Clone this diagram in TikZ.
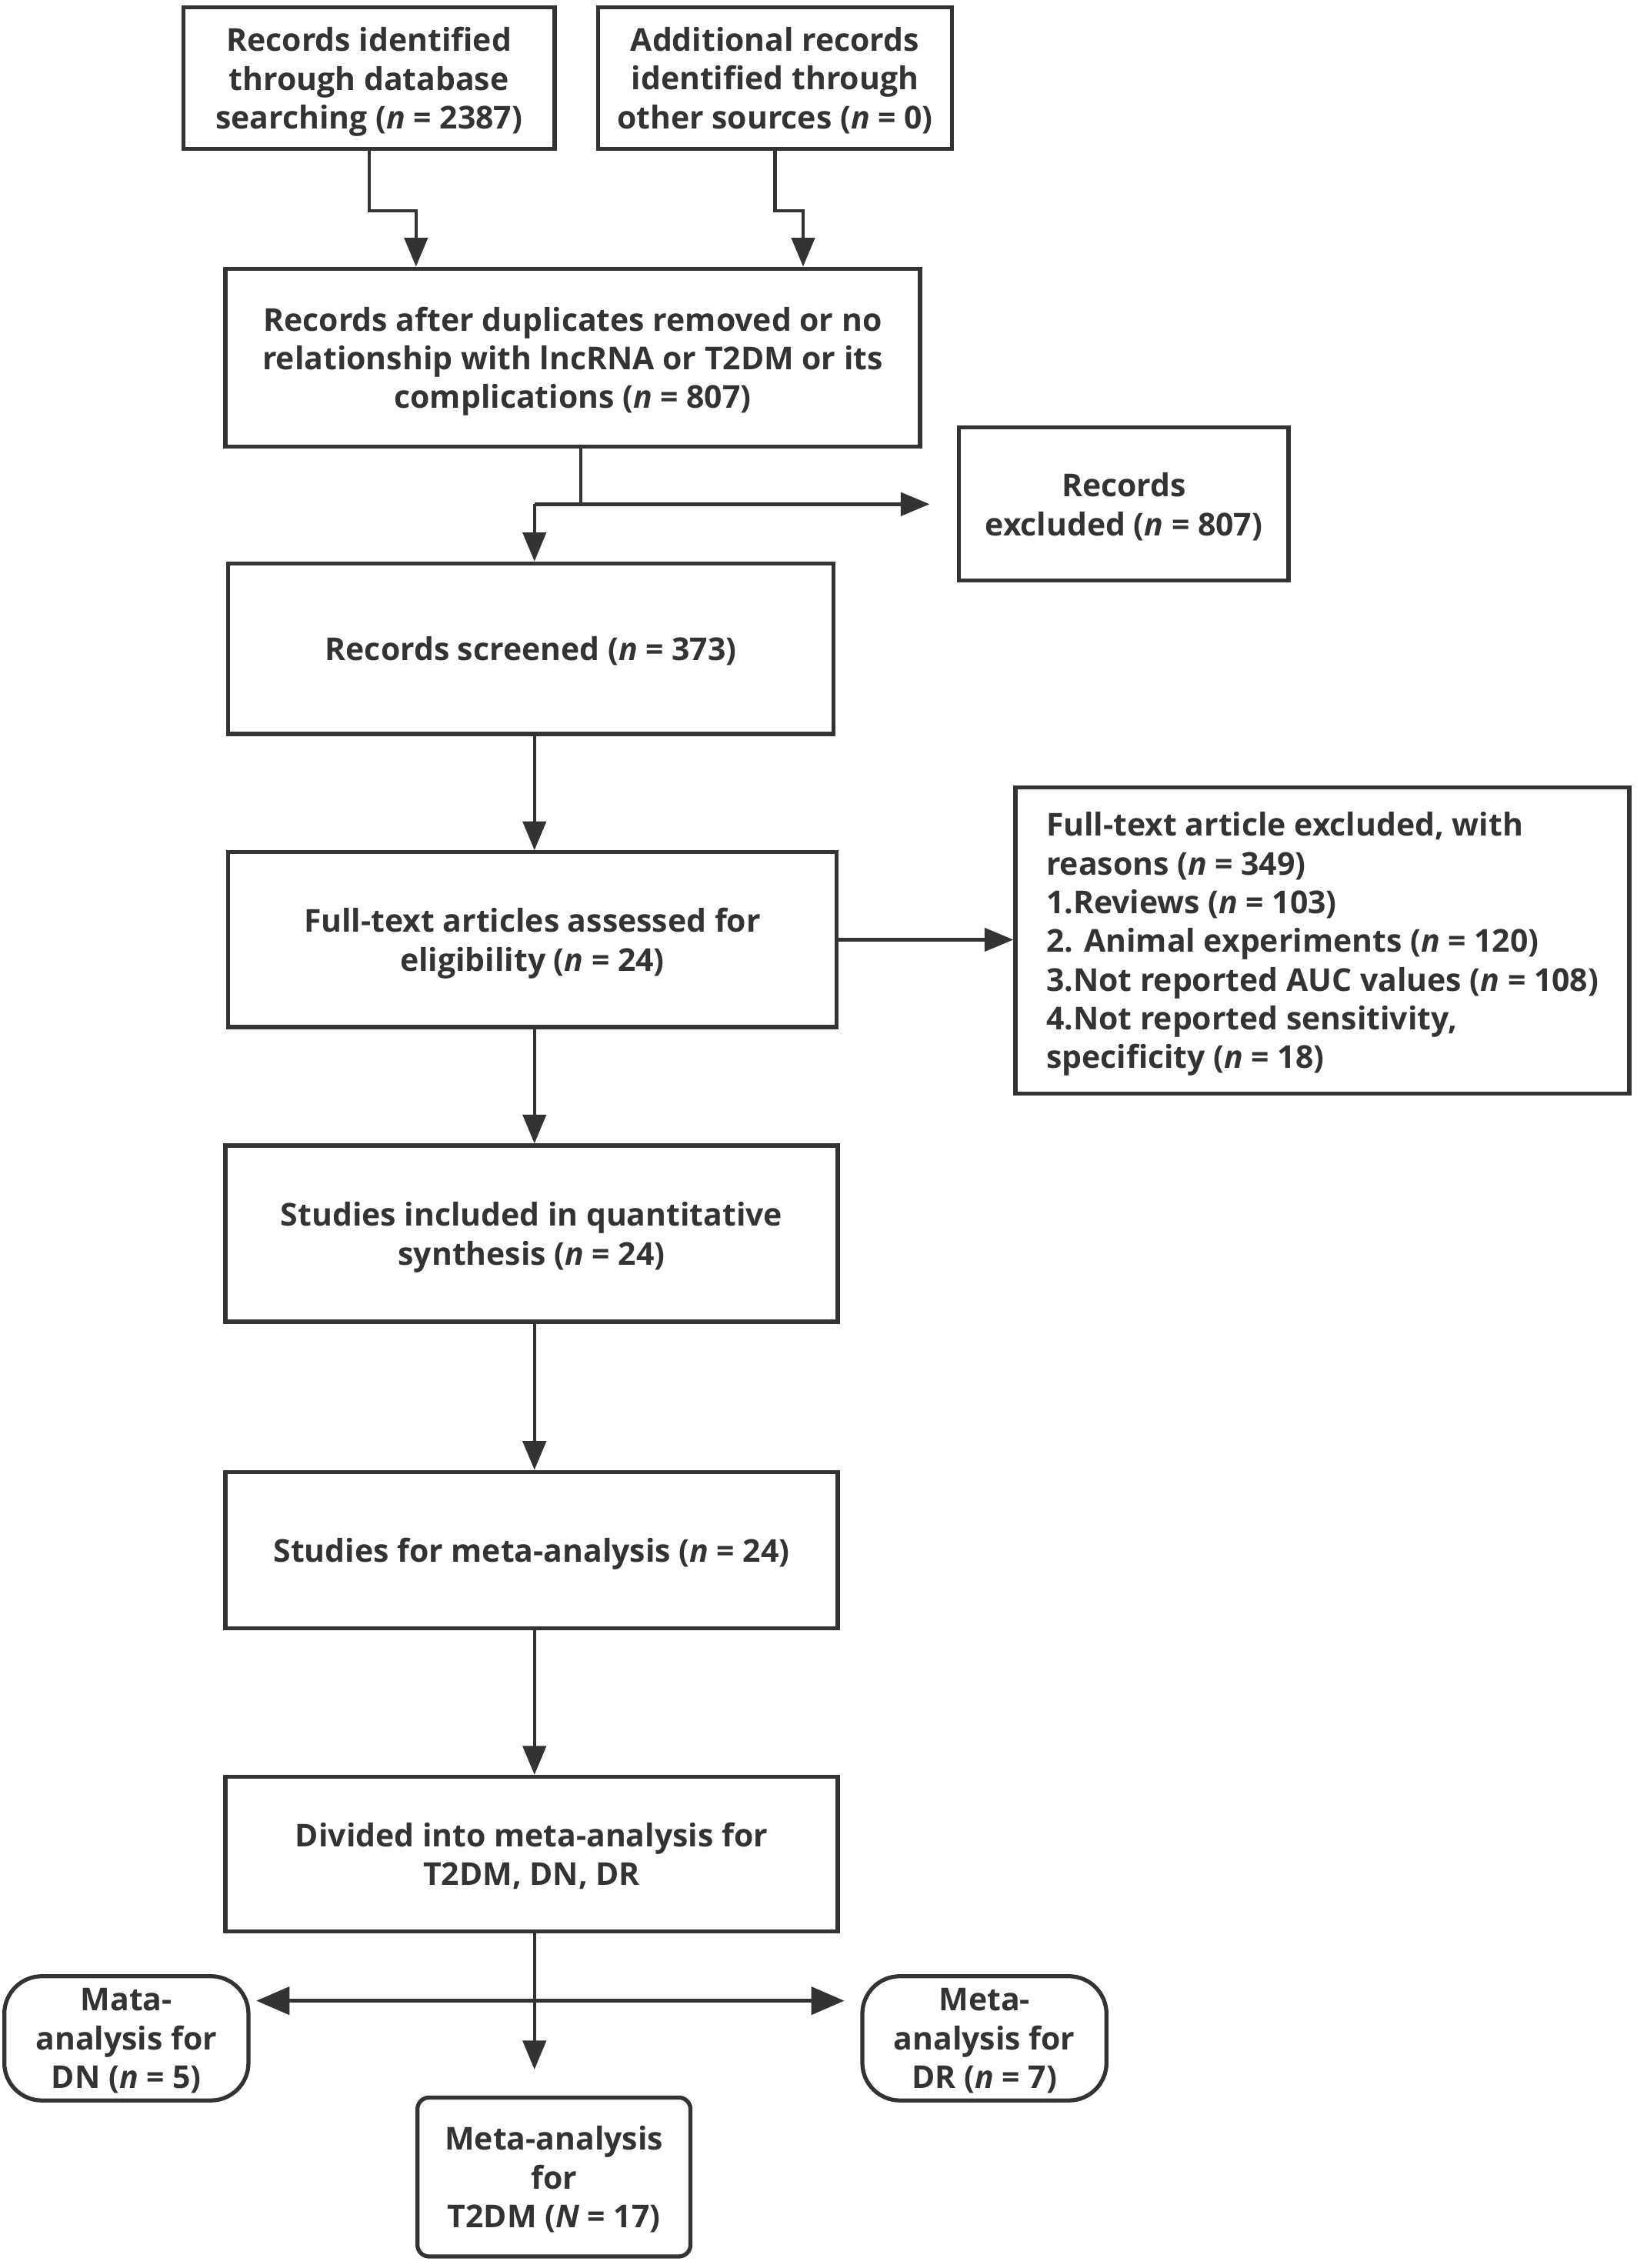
\documentclass[tikz,border=0pt]{standalone}
\usepackage{fontspec}
\setmainfont{Open Sans}
\usetikzlibrary{arrows.meta}
\definecolor{ink}{HTML}{333333}
\tikzset{
  box/.style={draw=ink, line width=2.8pt, align=center, text=ink,
    font=\fontsize{21.8}{26.8}\selectfont\bfseries, inner sep=0pt, text depth=-2pt},
  line/.style={draw=ink, line width=2.4pt},
  conn/.style={line, -{Triangle[length=20pt,width=16pt]}},
  dconn/.style={draw=ink, line width=3pt, {Triangle[length=23pt,width=19pt]}-{Triangle[length=23pt,width=19pt]}},
}
\newcommand{\nn}{\textit{n}}
\begin{document}
\begin{tikzpicture}[x=1pt,y=-1pt]
\useasboundingbox (0,0) rectangle (1133,1570);
\fill[white] (0,0) rectangle (1133,1570);

\node[box, minimum width=257pt, minimum height=98pt] (b1) at (255.5,54)
  {Records identified\\through database\\searching (\nn{} = 2387)};
\node[box, minimum width=245pt, minimum height=98pt] (b2) at (536.5,54)
  {Additional records\\identified through\\other sources (\nn{} = 0)};
\node[box, minimum width=481pt, minimum height=123pt] (b3) at (396.5,247.5)
  {Records after duplicates removed or no\\relationship with lncRNA or T2DM or its\\complications (\nn{} = 807)};
\node[box, minimum width=228pt, minimum height=106pt] (b4) at (778,349)
  {Records\\excluded (\nn{} = 807)};
\node[box, minimum width=419pt, minimum height=118pt] (b5) at (367.5,449)
  {Records screened (\nn{} = 373)};
\node[box, minimum width=421pt, minimum height=121pt] (b6) at (368.5,650.5)
  {Full-text articles assessed for\\eligibility (\nn{} = 24)};
\node[box, minimum width=425pt, minimum height=212pt, align=flush left] (b7) at (915.5,651)
  {Full-text article excluded, with\\reasons (\nn{} = 349)\\1.Reviews (\nn{} = 103)\\2. Animal experiments (\nn{} = 120)\\3.Not reported AUC values (\nn{} = 108)\\4.Not reported sensitivity,\\specificity (\nn{} = 18)};
\node[box, minimum width=424pt, minimum height=122pt] (b8) at (368,854)
  {Studies included in quantitative\\synthesis (\nn{} = 24)};
\node[box, minimum width=424pt, minimum height=108pt] (b9) at (368,1073)
  {Studies for meta-analysis (\nn{} = 24)};
\node[box, minimum width=424pt, minimum height=107pt] (b10) at (368,1283.5)
  {Divided into meta-analysis for\\T2DM, DN, DR};
\node[box, rounded corners=26pt, minimum width=169pt, minimum height=86pt] (dn) at (87.5,1411)
  {Mata-\\analysis for\\DN (\nn{} = 5)};
\node[box, rounded corners=26pt, minimum width=169pt, minimum height=86pt] (dr) at (681.5,1411)
  {Meta-\\analysis for\\DR (\nn{} = 7)};
\node[box, rounded corners=8pt, minimum width=189pt, minimum height=110pt] (t2) at (383.5,1507)
  {Meta-analysis\\for\\T2DM (\textit{N} = 17)};

\coordinate (c1) at (288,146);
\coordinate (c2) at (556,146);
\coordinate (s1) at (402,349);
\coordinate (s2) at (370,349);
\coordinate (h) at (370,1385);

\draw[conn] (b1.south) |- (c1) -- (c1 |- b3.north);
\draw[conn] (b2.south) |- (c2) -- (c2 |- b3.north);
\draw[line] (b3.south -| s1) -- (s1);
\draw[conn, shorten >=19pt] (s2) -- (b4.west |- s2);
\draw[conn] (s2) -- (s2 |- b5.north);
\draw[conn] (b5.south -| s2) -- (b6.north -| s2);
\draw[conn] (b6.east) -- (b7.west |- b6.east);
\draw[conn] (b6.south -| s2) -- (b8.north -| s2);
\draw[conn] (b8.south -| s2) -- (b9.north -| s2);
\draw[conn] (b9.south -| s2) -- (b10.north -| s2);
\draw[conn, shorten >=18pt] (b10.south -| s2) -- (t2.north -| s2);
\draw[dconn, shorten <=4pt, shorten >=11pt] (dn.east |- h) -- (dr.west |- h);
\end{tikzpicture}
\end{document}
